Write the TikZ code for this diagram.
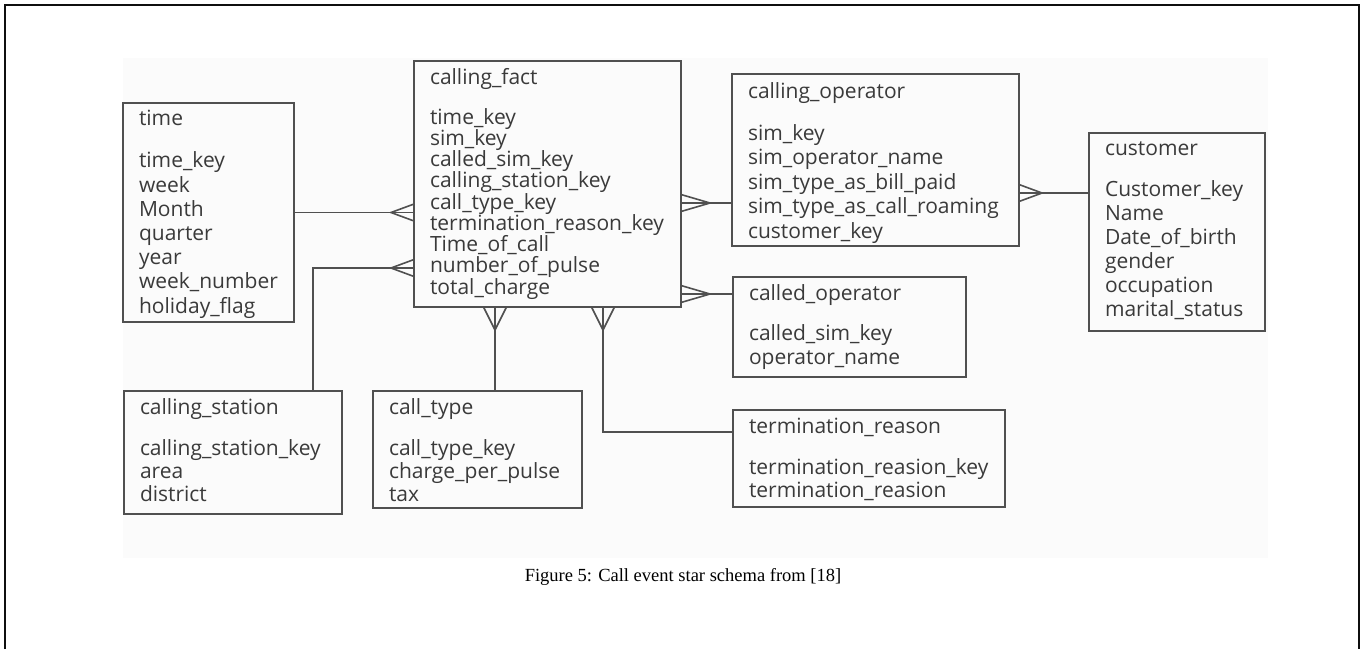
\documentclass[tikz,border=0pt]{standalone}
\usepackage{fontspec}
\setmainfont{Liberation Serif}
\newfontfamily\boxfont{Open Sans}
\usetikzlibrary{calc}
\definecolor{framec}{RGB}{15,15,15}
\definecolor{boxc}{RGB}{80,80,80}
\definecolor{txtc}{RGB}{58,58,58}
\definecolor{bgc}{RGB}{251,251,251}
\begin{document}
\begin{tikzpicture}[x=1pt,y=-1pt,
  tbl/.style={draw=boxc, line width=1.8pt, anchor=north west, inner sep=0pt, outer sep=0pt},
  fld/.style={anchor=base west, inner sep=0pt, outer sep=0pt, align=left, text=txtc, font={\boxfont\fontsize{21}{#1}\selectfont}},
  conn/.style={draw=boxc, line width=1.6pt},
  crowL/.pic={\draw[conn] (0,-8.5) -- (-23,0) -- (0,8.5);},
  crowR/.pic={\draw[conn] (0,-8.5) -- (29,0) -- (0,8.5);},
  crowRs/.pic={\draw[conn] (0,-8.5) -- (23,0) -- (0,8.5);},
  crowB/.pic={\draw[conn] (-11.5,0) -- (0,23) -- (11.5,0);}
]
\useasboundingbox (0,0) rectangle (1365,649);
% page frame and faint image background
\fill[bgc] (123,58) rectangle (1268,558);
\draw[framec, line width=2.4pt] (5,649) -- (5,5) -- (1359,5) -- (1359,649);

% tables
\node[tbl, minimum width=171pt, minimum height=219pt] (time) at (123,103) {};
\node[tbl, minimum width=267pt, minimum height=246pt] (fact) at (414,61) {};
\node[tbl, minimum width=287pt, minimum height=172pt] (oper) at (732,74) {};
\node[tbl, minimum width=176pt, minimum height=198pt] (cust) at (1089,133) {};
\node[tbl, minimum width=233pt, minimum height=100pt] (called) at (733,277) {};
\node[tbl, minimum width=272pt, minimum height=97pt] (term) at (733,410) {};
\node[tbl, minimum width=218pt, minimum height=123pt] (station) at (124,391) {};
\node[tbl, minimum width=209pt, minimum height=117pt] (ctype) at (373,391) {};

% table texts (anchored at the baseline of their last line)
\node[fld=24.2pt] (timeT) at ($(time.north west)+(16,210)$)
  {time\\[17.8pt]time\_key\\week\\Month\\quarter\\year\\week\_number\\holiday\_flag};
\node[fld=21.25pt] (factT) at ($(fact.north west)+(16,233)$)
  {calling\_fact\\[18.75pt]time\_key\\sim\_key\\called\_sim\_key\\calling\_station\_key\\call\_type\_key\\termination\_reason\_key\\Time\_of\_call\\number\_of\_pulse\\total\_charge};
\node[fld=24.5pt] (operT) at ($(oper.north west)+(16,164)$)
  {calling\_operator\\[17.5pt]sim\_key\\sim\_operator\_name\\sim\_type\_as\_bill\_paid\\sim\_type\_as\_call\_roaming\\customer\_key};
\node[fld=24pt] (custT) at ($(cust.north west)+(16,183)$)
  {customer\\[17pt]Customer\_key\\Name\\Date\_of\_birth\\gender\\occupation\\marital\_status};
\node[fld=24pt] (calledT) at ($(called.north west)+(16,87)$)
  {called\_operator\\[16pt]called\_sim\_key\\operator\_name};
\node[fld=23pt] (termT) at ($(term.north west)+(16,87)$)
  {termination\_reason\\[18pt]termination\_reasion\_key\\termination\_reasion};
\node[fld=23pt] (stationT) at ($(station.north west)+(16,110)$)
  {calling\_station\\[18pt]calling\_station\_key\\area\\district};
\node[fld=23pt] (ctypeT) at ($(ctype.north west)+(16,110)$)
  {call\_type\\[18pt]call\_type\_key\\charge\_per\_pulse\\tax};

% connectors
\draw[conn] (time.east) -- (time.east -| fact.west);
\pic at (time.east -| fact.west) {crowL};
\draw[conn] (station.north -| 313,0) |- (fact.west |- 0,268);
\pic at (fact.west |- 0,268) {crowL};
\draw[conn] (fact.south -| 495,0) -- (ctype.north -| 495,0);
\pic at (fact.south -| 495,0) {crowB};
\draw[conn] (fact.south -| 603,0) |- (term.west |- 0,432);
\pic at (fact.south -| 603,0) {crowB};
\draw[conn] (fact.east |- 0,203) -- (oper.west |- 0,203);
\pic at (fact.east |- 0,203) {crowR};
\draw[conn] (fact.east |- 0,294) -- (called.west |- 0,294);
\pic at (fact.east |- 0,294) {crowR};
\draw[conn] (oper.east |- 0,193) -- (cust.west |- 0,193);
\pic at (oper.east |- 0,193) {crowRs};

% caption
\node[anchor=base, inner sep=0pt, font={\fontsize{18.5}{22}\selectfont}] (caption) at (683,581)
  {Figure 5: Call event star schema from [18]};
\end{tikzpicture}
\end{document}
